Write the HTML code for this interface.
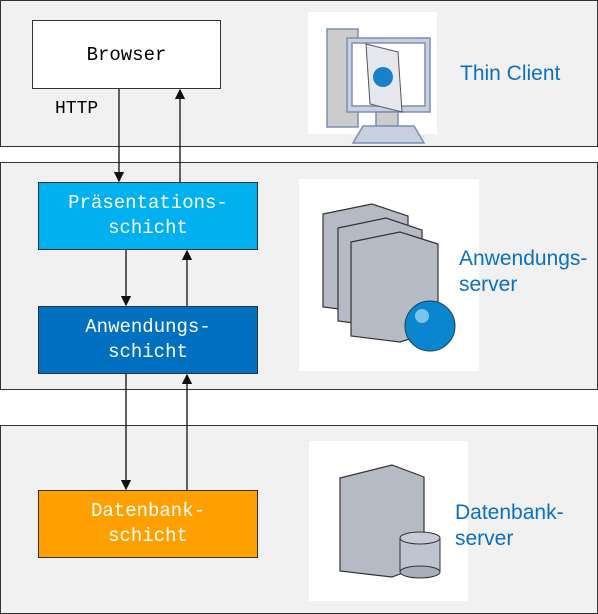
<!DOCTYPE html>
<html><head><meta charset="utf-8"><style>
body{margin:0;width:598px;height:614px;background:#fff;position:relative;overflow:hidden;font-family:"Liberation Sans",sans-serif}
.p{position:absolute;background:#f1f1f1;border:1.5px solid #333;box-sizing:border-box}
.b{position:absolute;box-sizing:border-box;display:flex;align-items:center;justify-content:center;text-align:center;font-family:"Liberation Mono",monospace;font-size:19px;line-height:25px;color:#fff}
.w{position:absolute;background:#fff}
.t{position:absolute;color:#0a70c0;font-size:21px;line-height:26px}
svg{position:absolute;left:0;top:0}
</style></head><body>
<div class="p" style="left:0;top:0;width:598px;height:147px"></div>
<div class="p" style="left:0;top:162px;width:598px;height:228px"></div>
<div class="p" style="left:0;top:425px;width:598px;height:189px"></div>
<div class="b" style="left:32px;top:20px;width:189px;height:69px;background:#fff;border:1.5px solid #333;color:#000;padding-top:2px">Browser</div>
<div style="position:absolute;left:55px;top:99px;font-family:'Liberation Mono',monospace;font-size:18px">HTTP</div>
<div class="b" style="left:38px;top:182px;width:220px;height:68px;background:#00b0f0;border:1px solid #333">Präsentations-<br>schicht</div>
<div class="b" style="left:38px;top:306px;width:220px;height:68px;background:#0070c0;border:1px solid #333">Anwendungs-<br>schicht</div>
<div class="b" style="left:38px;top:490px;width:220px;height:68px;background:#ffa000;border:1px solid #333">Datenbank-<br>schicht</div>
<div class="w" style="left:308px;top:12px;width:129px;height:122px"></div>
<div class="w" style="left:299px;top:179px;width:180px;height:192px"></div>
<div class="w" style="left:309px;top:441px;width:159px;height:160px"></div>
<div class="t" style="left:460px;top:61px">Thin Client</div>
<div class="t" style="left:459px;top:246px">Anwendungs-<br>server</div>
<div class="t" style="left:455px;top:500px">Datenbank-<br>server</div>
<svg width="598" height="614">
<defs><marker id="a" markerWidth="8" markerHeight="8" refX="7" refY="4" orient="auto"><path d="M0,0L8,4L0,8z" fill="#111"/></marker></defs>
<g stroke="#111" stroke-width="1.3" marker-end="url(#a)">
<line x1="119" y1="89" x2="119" y2="181"/>
<line x1="180" y1="182" x2="180" y2="90"/>
<line x1="126" y1="250" x2="126" y2="305"/>
<line x1="187" y1="306" x2="187" y2="251"/>
<line x1="126" y1="374" x2="126" y2="489"/>
<line x1="187" y1="490" x2="187" y2="375"/>
</g>
<g stroke="#7a8fb5" stroke-width="1.5">
<rect x="327" y="29" width="31" height="98" fill="#ccc"/>
<rect x="347" y="38" width="83" height="74" fill="#c8d0e0"/>
<rect x="352" y="43" width="73" height="63" fill="#fff"/>
<rect x="376" y="112" width="22" height="14" fill="#ccc"/>
<path d="M363,126 L414,126 L424,143 L353,143z" fill="#c8d0e0"/>
</g>
<path d="M366,44 L398,52 L402,112 L370,104z" fill="#e6e8ee" stroke="#555"/>
<circle cx="383" cy="77" r="10" fill="#1a80c8"/>
<g stroke="#333" stroke-width="1.2" fill="#b5bac4">
<path d="M323,214 L372,204 L408,216 L408,302 L372,313 L323,307z"/>
<path d="M338,228 L386,218 L422,230 L422,316 L386,327 L338,321z"/>
<path d="M351,242 L400,232 L438,244 L438,330 L400,342 L351,336z"/>
</g>
<circle cx="430" cy="326" r="25" fill="#0a86d0" stroke="#145" stroke-width="1"/>
<circle cx="422" cy="316" r="7" fill="#7cc4f0"/>
<path d="M340,478 L392,465 L424,477 L424,565 L392,577 L340,571z" fill="#b5bac4" stroke="#333" stroke-width="1.2"/>
<rect x="400" y="538" width="40" height="34" fill="#bfc4d0" stroke="#333"/>
<ellipse cx="420" cy="538" rx="20" ry="6" fill="#c8ccd8" stroke="#333"/>
<ellipse cx="420" cy="572" rx="20" ry="6" fill="#a8adba" stroke="#333"/>
</svg>
</body></html>
